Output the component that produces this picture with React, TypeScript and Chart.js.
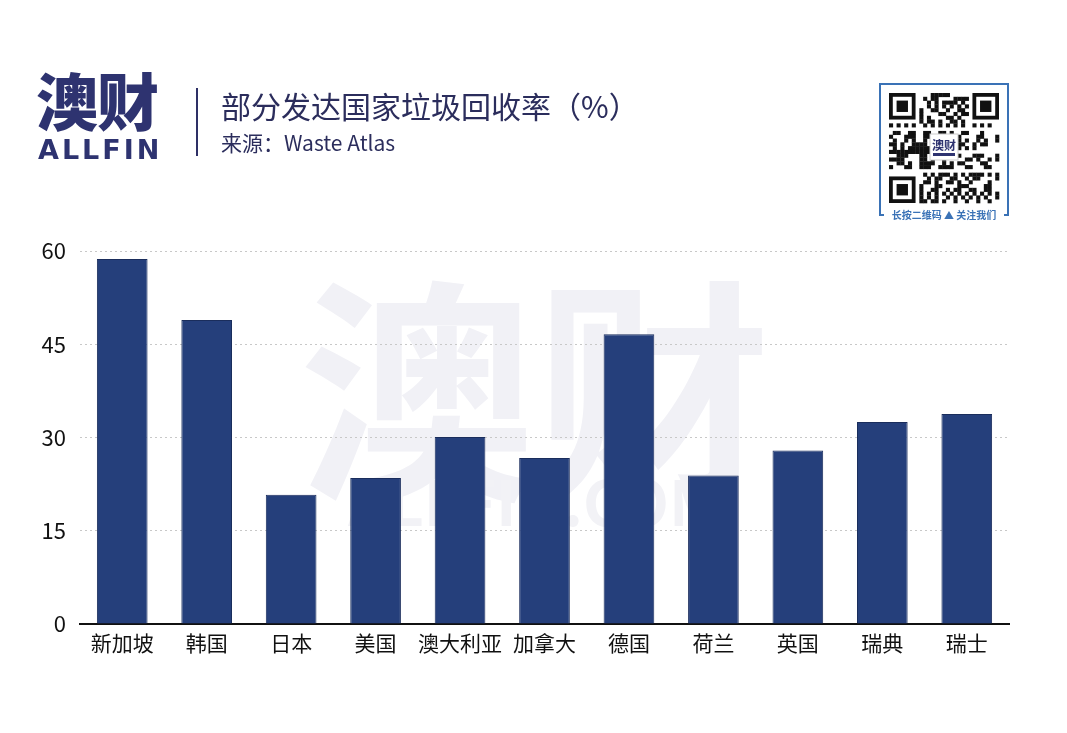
import React, { useEffect, useRef } from "react";
import { Chart, registerables } from "chart.js";
Chart.register(...registerables);

const categories = ["新加坡", "韩国", "日本", "美国", "澳大利亚", "加拿大", "德国", "荷兰", "英国", "瑞典", "瑞士"];
const recyclingRates = [58.7, 48.9, 20.8, 23.5, 30.1, 26.7, 46.6, 23.9, 27.9, 32.5, 33.8];
const yMin = 0;
const yMax = 60;
const yStep = 15;

const W = 1067;
const H = 733;
const FONT = '"Noto Sans CJK SC", "Noto Sans", sans-serif';

const watermarkPlugin = {
  id: "watermark",
  beforeDraw(chart: any) {
    const ctx = chart.ctx;
    ctx.save();
    ctx.fillStyle = "#f1f1f6";
    ctx.font = `bold 236px ${FONT}`;
    ctx.textAlign = "center";
    ctx.textBaseline = "alphabetic";
    ctx.fillText("澳财", 535, 482);
    ctx.fillStyle = "#f2f2f6";
    ctx.font = `bold 62px ${FONT}`;
    ctx.fillText("ALLFIN.COM", 535, 526);
    ctx.restore();
  },
};

function QRBox() {
  const ref = useRef<HTMLCanvasElement | null>(null);
  useEffect(() => {
    const c = ref.current;
    if (!c) return;
    const ctx = c.getContext("2d")!;
    ctx.clearRect(0, 0, c.width, c.height);
    const blue = "#3a72b6";
    ctx.strokeStyle = blue;
    ctx.lineWidth = 2;
    ctx.beginPath();
    ctx.moveTo(6, 133);
    ctx.lineTo(2, 133);
    ctx.lineTo(2, 2);
    ctx.lineTo(130, 2);
    ctx.lineTo(130, 133);
    ctx.lineTo(126, 133);
    ctx.stroke();
    const n = 29;
    const size = 110 / n;
    const ox = 11;
    const oy = 11;
    ctx.fillStyle = "#111";
    const finder = (fx: number, fy: number) => {
      ctx.fillRect(ox + fx * size, oy + fy * size, 7 * size, 7 * size);
      ctx.fillStyle = "#fff";
      ctx.fillRect(ox + (fx + 1) * size, oy + (fy + 1) * size, 5 * size, 5 * size);
      ctx.fillStyle = "#111";
      ctx.fillRect(ox + (fx + 2) * size, oy + (fy + 2) * size, 3 * size, 3 * size);
    };
    for (let i = 0; i < n; i++) {
      for (let j = 0; j < n; j++) {
        const inFinder = (i < 8 && j < 8) || (i < 8 && j >= n - 8) || (i >= n - 8 && j < 8);
        if (inFinder) continue;
        const h = (i * 131 + j * 71 + i * j * 17 + ((i ^ j) * 29)) % 11;
        if (h < 5) ctx.fillRect(ox + j * size, oy + i * size, size + 0.3, size + 0.3);
      }
    }
    finder(0, 0);
    finder(n - 7, 0);
    finder(0, n - 7);
    ctx.fillStyle = "#fff";
    ctx.fillRect(52, 52, 28, 26);
    ctx.strokeStyle = "#ccc";
    ctx.lineWidth = 1;
    ctx.strokeRect(52, 52, 28, 26);
    ctx.fillStyle = "#2e3370";
    ctx.font = `bold 12px ${FONT}`;
    ctx.textAlign = "center";
    ctx.textBaseline = "middle";
    ctx.fillText("澳财", 66, 63);
    ctx.fillRect(55, 71, 22, 3);
    ctx.fillStyle = blue;
    ctx.font = `bold 10px ${FONT}`;
    ctx.fillText("长按二维码 ▲ 关注我们", 66, 133);
  }, []);
  return (
    <canvas
      ref={ref}
      width={132}
      height={140}
      style={{ position: "absolute", left: 878, top: 82, width: 132, height: 140 }}
    />
  );
}

export default function App() {
  const canvasRef = useRef<HTMLCanvasElement | null>(null);

  useEffect(() => {
    const canvas = canvasRef.current;
    if (!canvas) return;
    const chart = new Chart(canvas, {
      type: "bar",
      data: {
        labels: categories,
        datasets: [
          {
            label: "回收率",
            data: recyclingRates,
            backgroundColor: "#253f7b",
            borderColor: "#1a2d5c",
            borderWidth: 1,
            categoryPercentage: 1,
            barPercentage: 0.6,
          },
        ],
      },
      options: {
        responsive: false,
        animation: false,
        devicePixelRatio: 1,
        layout: { padding: { left: 0, right: 58, top: 251, bottom: 0 } },
        plugins: {
          legend: { display: false },
          tooltip: { enabled: false },
          title: { display: false },
        },
        scales: {
          x: {
            grid: { display: false, drawTicks: false },
            border: { display: true, color: "#111", width: 2 },
            ticks: {
              color: "#111",
              font: { family: FONT, size: 21 },
              padding: 6,
              maxRotation: 0,
              autoSkip: false,
            },
            afterFit: (scale: any) => {
              scale.height = 109;
            },
          },
          y: {
            min: yMin,
            max: yMax,
            grid: {
              color: "#c8c8c8",
              lineWidth: 1,
              drawTicks: false,
            },
            border: { display: false, dash: [2, 3] },
            ticks: {
              stepSize: yStep,
              color: "#111",
              font: { family: FONT, size: 22 },
              padding: 14,
            },
            afterFit: (scale: any) => {
              scale.width = 80;
            },
          },
        },
      } as any,
      plugins: [watermarkPlugin],
    });
    return () => chart.destroy();
  }, []);

  return (
    <div style={{ position: "absolute", left: 0, top: 0, width: W, height: H, background: "#fff", overflow: "hidden" }}>
      <canvas ref={canvasRef} width={W} height={H} style={{ position: "absolute", left: 0, top: 0, width: W, height: H }} />
      <div
        style={{
          position: "absolute",
          left: 36,
          top: 60,
          fontFamily: FONT,
          fontWeight: 900,
          fontSize: 62,
          lineHeight: "78px",
          color: "#2e3370",
          letterSpacing: -1,
        }}
      >
        澳财
      </div>
      <div
        style={{
          position: "absolute",
          left: 38,
          top: 134,
          fontFamily: '"DejaVu Sans", "Noto Sans", sans-serif',
          fontWeight: 700,
          fontSize: 27,
          lineHeight: "32px",
          color: "#2e3370",
          letterSpacing: 3,
        }}
      >
        ALLFIN
      </div>
      <div style={{ position: "absolute", left: 196, top: 88, width: 2, height: 68, background: "#2e3066" }} />
      <div
        style={{
          position: "absolute",
          left: 221,
          top: 85,
          fontFamily: FONT,
          fontSize: 30,
          lineHeight: "40px",
          color: "#2b2d5c",
          whiteSpace: "nowrap",
        }}
      >
        部分发达国家垃圾回收率（%）
      </div>
      <div
        style={{
          position: "absolute",
          left: 221,
          top: 127,
          fontFamily: FONT,
          fontSize: 21,
          lineHeight: "30px",
          color: "#2b2d5c",
          whiteSpace: "nowrap",
        }}
      >
        来源：Waste Atlas
      </div>
      <QRBox />
    </div>
  );
}
